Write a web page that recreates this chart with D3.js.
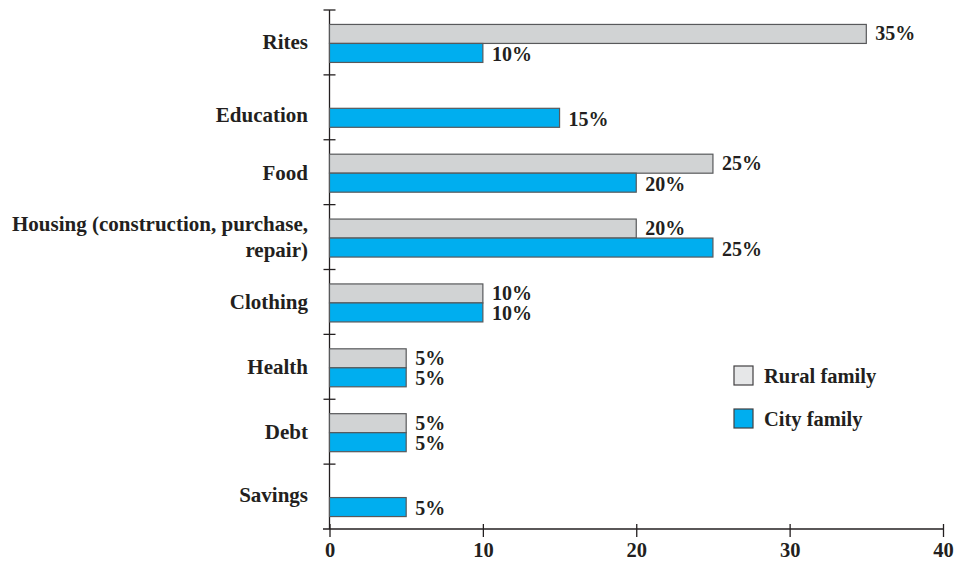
<!DOCTYPE html>
<html>
<head>
<meta charset="utf-8">
<script src="https://cdn.jsdelivr.net/npm/d3@7"></script>
<style>
  body { margin: 0; background: #fff; }
  svg { display: block; }
  text { font-family: "Liberation Serif", "Times New Roman", serif; font-weight: bold; fill: #231f20; }
</style>
</head>
<body>
<div id="chart"></div>
<script>
// Family spending by category (%)
const categories = ["Rites", "Education", "Food", "Housing", "Clothing", "Health", "Debt", "Savings"];
const categoryLabels = [
  ["Rites"],
  ["Education"],
  ["Food"],
  ["Housing (construction, purchase,", "repair)"],
  ["Clothing"],
  ["Health"],
  ["Debt"],
  ["Savings"]
];
const ruralValues = [35, null, 25, 20, 10, 5, 5, null];
const cityValues = [10, 15, 20, 25, 10, 5, 5, 5];
const seriesNames = ["Rural family", "City family"];
const xTicks = [0, 10, 20, 30, 40];

const width = 957, height = 562;
const axisColor = "#231f20";
const ruralColor = "#d1d3d4";
const cityColor = "#00aeef";
const barH = 19;

const svg = d3.select("#chart").append("svg")
  .attr("width", width)
  .attr("height", height);

const x = d3.scaleLinear().domain([0, 40]).range([329.5, 943]);
const y = d3.scaleBand().domain(categories).range([10, 529]);

// x axis
const xAxis = svg.append("g")
  .attr("transform", "translate(0,529)")
  .call(d3.axisBottom(x).tickValues(xTicks).tickSize(8).tickSizeOuter(0));
xAxis.select(".domain").remove();
xAxis.append("line")
  .attr("x1", 323).attr("x2", 943)
  .attr("stroke", axisColor).attr("stroke-width", 1.3);
xAxis.selectAll(".tick line")
  .attr("y1", -5).attr("y2", 8)
  .attr("stroke", axisColor).attr("stroke-width", 1.3);
xAxis.selectAll(".tick text")
  .attr("y", 28)
  .attr("dy", 0)
  .style("font-size", "20.5px")
  .style("font-family", "'Liberation Serif', serif")
  .style("font-weight", "bold")
  .attr("fill", axisColor);

// y axis line and category separator ticks
const yAxis = svg.append("g");
yAxis.append("line")
  .attr("x1", x(0)).attr("x2", x(0))
  .attr("y1", 10).attr("y2", 529)
  .attr("stroke", axisColor).attr("stroke-width", 1.3);
const boundaries = categories.map(c => y(c));
yAxis.selectAll("line.sep")
  .data(boundaries)
  .enter().append("line")
  .attr("class", "sep")
  .attr("x1", x(0) - 6).attr("x2", x(0) + 6)
  .attr("y1", d => d).attr("y2", d => d)
  .attr("stroke", axisColor).attr("stroke-width", 1.3);

// category labels
const labelTweak = { Education: 7, Savings: -2, Rites: -1 };
categories.forEach((c, i) => {
  const cy = y(c) + y.bandwidth() / 2 + (labelTweak[c] || 0);
  const lines = categoryLabels[i];
  const t = svg.append("text")
    .attr("text-anchor", "end")
    .style("font-size", "21px");
  lines.forEach((ln, j) => {
    t.append("tspan")
      .attr("x", 308)
      .attr("y", cy + (j - (lines.length - 1) / 2) * 26)
      .attr("dy", "0.35em")
      .text(ln);
  });
});

// bars
const rows = categories.map((c, i) => ({ cat: c, rural: ruralValues[i], city: cityValues[i] }));
const g = svg.append("g");

function drawSeries(key, color, offset, nudge) {
  const data = rows.filter(d => d[key] != null);
  const center = d => y(d.cat) + y.bandwidth() / 2;
  g.selectAll("rect." + key)
    .data(data)
    .enter().append("rect")
    .attr("class", key)
    .attr("x", x(0))
    .attr("y", d => center(d) + offset)
    .attr("width", d => x(d[key]) - x(0))
    .attr("height", barH)
    .attr("fill", color)
    .attr("stroke", "#58595b")
    .attr("stroke-width", 1.2);
  g.selectAll("text." + key)
    .data(data)
    .enter().append("text")
    .attr("class", key)
    .attr("x", d => x(d[key]) + 9)
    .attr("y", d => center(d) + offset + barH / 2 + nudge)
    .attr("dy", "0.35em")
    .style("font-size", "20px")
    .text(d => d[key] + "%");
}
drawSeries("rural", ruralColor, -18, -0.5);
drawSeries("city", cityColor, 1, 1);

// legend
const legend = svg.append("g").attr("transform", "translate(734,366)");
[ "#e6e7e8", cityColor ].forEach((col, i) => {
  legend.append("rect")
    .attr("x", 0).attr("y", i * 43)
    .attr("width", 19).attr("height", 19)
    .attr("fill", col)
    .attr("stroke", "#414042")
    .attr("stroke-width", 1.2);
  legend.append("text")
    .attr("x", 30).attr("y", i * 43 + 10)
    .attr("dy", "0.35em")
    .style("font-size", "20.5px")
    .text(seriesNames[i]);
});
</script>
</body>
</html>
